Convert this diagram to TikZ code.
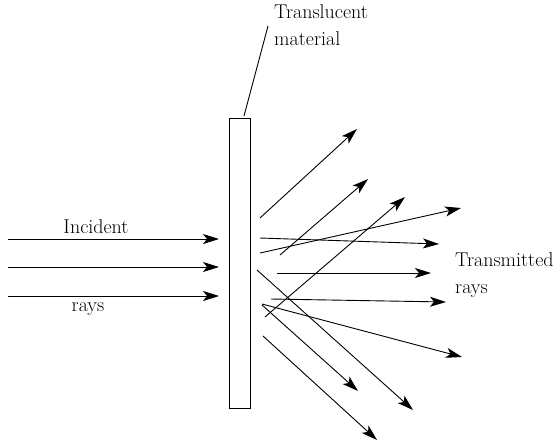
\documentclass[tikz,border=0pt]{standalone}
\usetikzlibrary{arrows.meta}
\begin{document}
\begin{tikzpicture}[x=1pt,y=-1pt,
  ray/.style={line width=0.9pt,-{Stealth[length=16pt,width=10pt,inset=4pt]}},
  lbl/.style={font=\fontsize{20}{27}\selectfont,inner sep=0pt,align=left},
  slabbox/.style={draw,line width=0.9pt,minimum width=21pt,minimum height=290pt,inner sep=0pt}]
\useasboundingbox (0,0) rectangle (559,445);
\node[slabbox] (slab) at (239.5,263) {};
% incident rays
\coordinate (i1s) at (8,239); \coordinate (i1e) at (219,239);
\coordinate (i2s) at (8,267); \coordinate (i2e) at (219,267);
\coordinate (i3s) at (8,296); \coordinate (i3e) at (219,296);
\draw[ray] (i1s) -- (i1e);
\draw[ray] (i2s) -- (i2e);
\draw[ray] (i3s) -- (i3e);
\node[lbl] (inc) at (96,227) {Incident};
\node[lbl] (irays) at (88,309) {rays};
% label for material
\node[lbl,anchor=north west] (trans) at (274,4) {Translucent\\material};
\coordinate (lp) at (244,116);
\coordinate (lq) at (268,26);
\draw[line width=0.9pt] (lp) -- (lq);
% transmitted rays
\coordinate (t1s) at (260,218); \coordinate (t1e) at (357,129);
\coordinate (t2s) at (280,255); \coordinate (t2e) at (368,179);
\coordinate (t3s) at (265,317); \coordinate (t3e) at (405,197);
\coordinate (t4s) at (260,253); \coordinate (t4e) at (461,208);
\coordinate (t5s) at (260,238); \coordinate (t5e) at (439,244);
\coordinate (t6s) at (277,273); \coordinate (t6e) at (431,273);
\coordinate (t7s) at (271,299); \coordinate (t7e) at (446,302);
\coordinate (t8s) at (262,304); \coordinate (t8e) at (462,357);
\coordinate (t9s) at (262,305); \coordinate (t9e) at (358,391);
\coordinate (t10s) at (257,270); \coordinate (t10e) at (413,410);
\coordinate (t11s) at (263,336); \coordinate (t11e) at (377,440);
\foreach \i in {1,...,11} {\draw[ray] (t\i s) -- (t\i e);}
\node[lbl,anchor=west] (trr) at (455,275) {Transmitted\\rays};
\end{tikzpicture}
\end{document}
